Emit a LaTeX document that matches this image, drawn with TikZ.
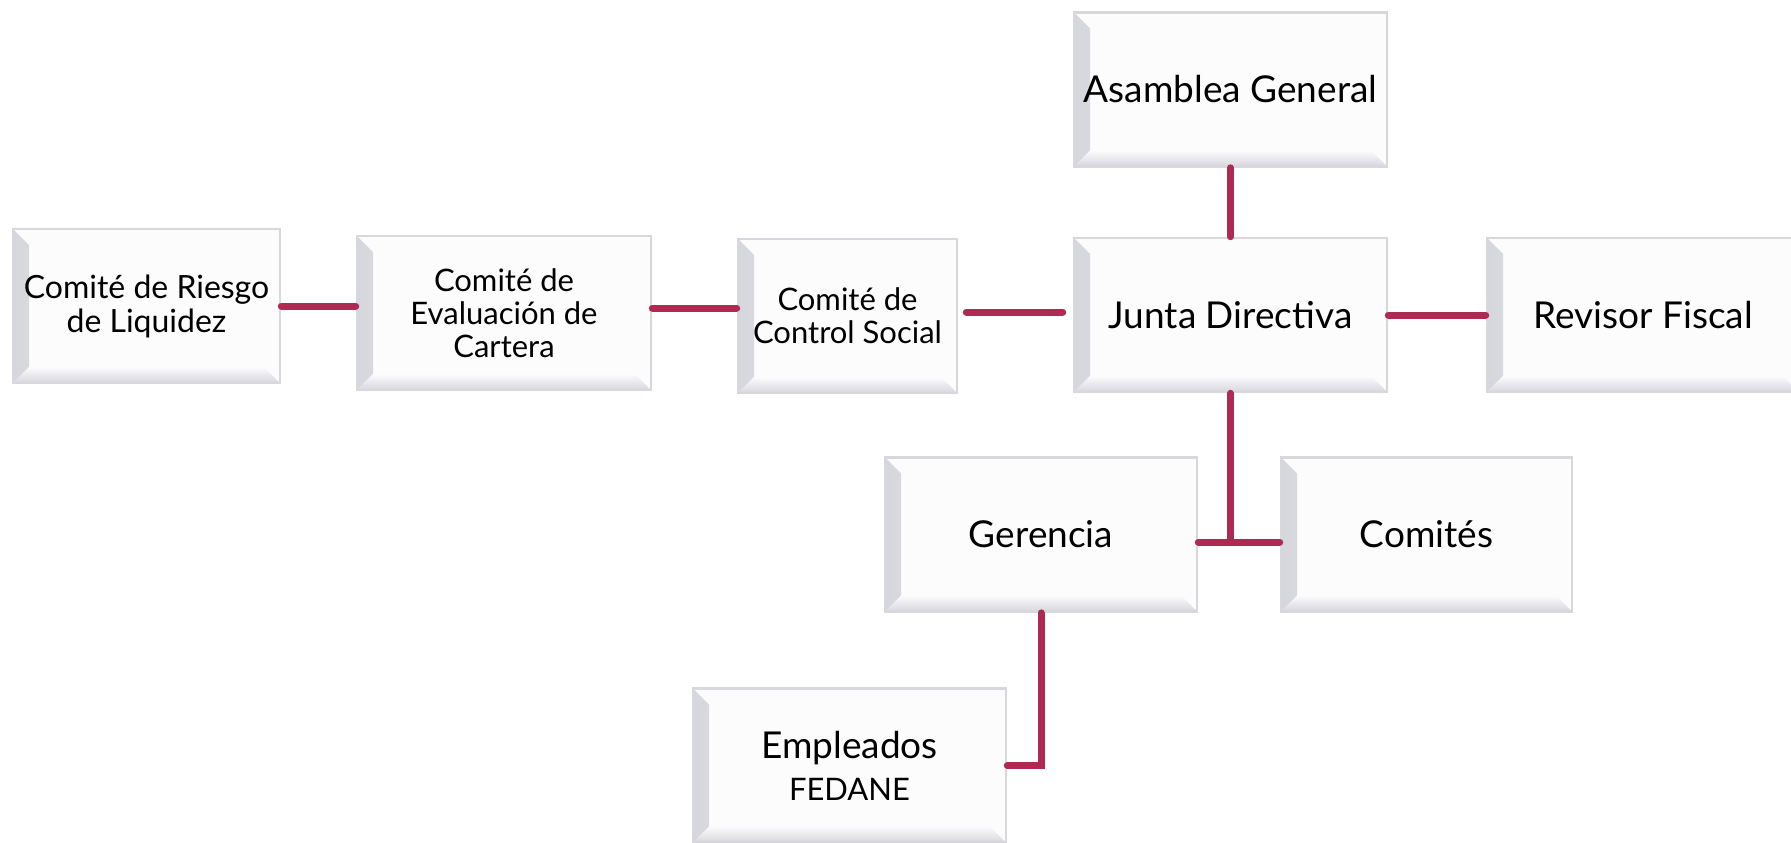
\documentclass[tikz,border=0pt]{standalone}
\usepackage{fontspec}
\setmainfont{Lato}
\usetikzlibrary{calc,positioning}
\definecolor{mycrimson}{HTML}{AE2A52}
\definecolor{myface}{HTML}{FCFCFD}
\definecolor{myedge}{HTML}{D8D8DC}
\definecolor{mybevel}{HTML}{D6D6DD}

\tikzset{
	bevelbox/.style={draw=myedge, line width=1.3pt, fill=myface, inner sep=0pt, align=center,
		minimum height=77pt, font=\fontsize{18.5}{21}\selectfont,
		path picture={
			\shade[left color=mybevel, right color=myface]
				(path picture bounding box.south west) -- (path picture bounding box.north west)
				-- ($(path picture bounding box.north west)+(8pt,-8pt)$)
				-- ($(path picture bounding box.south west)+(8pt,8pt)$) -- cycle;
			\shade[bottom color=mybevel, top color=myface]
				(path picture bounding box.south west) -- (path picture bounding box.south east)
				-- ($(path picture bounding box.south east)+(-8pt,8pt)$)
				-- ($(path picture bounding box.south west)+(8pt,8pt)$) -- cycle;
		}},
	smalltext/.style={font=\fontsize{15.5}{16.5}\selectfont},
	link/.style={draw=mycrimson, line width=3.5pt, line cap=round},
}

\begin{document}
\begin{tikzpicture}[x=0.5pt,y=-0.5pt]
		%% The page keeps the size of the original picture
		\useasboundingbox (0,0) rectangle (1791,842);
		%% Upper row of boxes
		\node[bevelbox, font=\fontsize{16}{17}\selectfont, minimum width=133.5pt] (riesgo) at (146.5,306) {Comité de Riesgo\\de Liquidez};
		\node[bevelbox, smalltext, minimum width=147pt] (evaluacion) at (504,313) {Comité de\\Evaluación de\\Cartera};
		\node[bevelbox, smalltext, minimum width=109.5pt] (control) at (847.5,316) {Comité de\\Control Social};
		\node[bevelbox, minimum width=156.5pt] (asamblea) at (1230.5,89.5) {Asamblea General};
		\node[bevelbox, minimum width=156.5pt] (junta) at (1230.5,315) {Junta Directiva};
		\node[bevelbox, minimum width=156pt] (revisor) at (1643,315) {Revisor Fiscal};
		%% Lower boxes
		\node[bevelbox, minimum width=156pt] (gerencia) at (1041,534.5) {Gerencia};
		\node[bevelbox, minimum width=145.5pt] (comites) at (1426.5,534.5) {Comités};
		\node[bevelbox, minimum width=156.5pt] (empleados) at (849.5,765.5) {Empleados\\{\fontsize{15.5}{16}\selectfont FEDANE}};
		%% Connectors between the boxes
		\draw[link] (riesgo.east) -- (evaluacion.west |- riesgo.east);
		\draw[link] (evaluacion.east) ++(0,-5) -- (control.west |- 0,308);
		\draw[link, shorten <=4pt, shorten >=5pt] (control.east) ++(0,-4) -- (junta.west |- 0,312);
		\draw[link] (junta.east) -- (revisor.west);
		\draw[link] (asamblea.south) -- (junta.north);
		\draw[link] (junta.south) -- coordinate[pos=1] (tee) (junta.south |- 0,542);
		\draw[link] (gerencia.east |- tee) -- (comites.west |- tee);
		\draw[link] (gerencia.south) |- (empleados.east);
	\end{tikzpicture}
\end{document}
